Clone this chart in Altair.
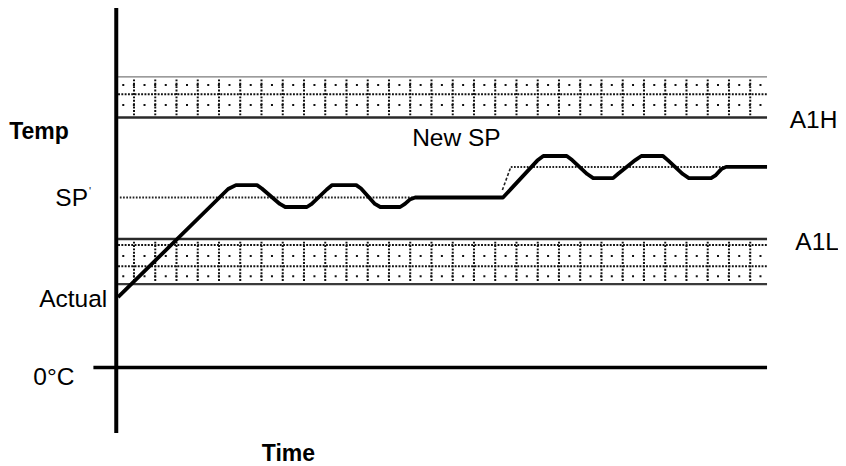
import altair as alt
import pandas as pd

# ---------------- data ----------------
# measured process temperature vs time
time_pts = [0.3, 18.6, 19.9, 23.4, 24.2, 27.2, 28.1, 31.7, 32.5, 35.0, 35.9, 39.9, 40.7,
            43.0, 43.9, 47.2, 48.0, 48.8, 49.7, 64.3, 70.0, 71.0, 74.9, 75.8, 78.3, 79.3,
            82.6, 83.4, 86.3, 87.3, 90.9, 91.7, 94.2, 95.2, 98.9, 99.7, 100.6, 101.4, 108.2]
temp_pts = [41.4, 105.0, 107.3, 107.3, 105.3, 96.2, 94.4, 94.4, 96.2, 104.7, 107.3, 107.3, 105.3,
            96.2, 94.4, 94.4, 96.2, 98.8, 100.0, 100.0, 121.7, 124.4, 124.4, 122.0, 113.8, 111.4,
            111.4, 113.8, 122.0, 124.4, 124.4, 122.0, 113.8, 111.4, 111.4, 113.2, 116.7, 118.0, 118.0]

SP = 100.0
NEW_SP = 118.0
SP_STEP_T = [64.2, 65.6]
SP_STEP_TEMP = [104.4, 118.0]
SP_END_T = 101.4

A1H = 147.0
A1L = 75.5
UPPER_TOP = 171.0
LOWER_BOTTOM = 49.0
T_START = 0.3
T_END = 108.2

AXIS_T_MIN = -3.8
AXIS_TEMP_MIN = -38.6
AXIS_TEMP_MAX = 211.5

left_labels = ["0°C", "A1L", "New SP"]
left_t = [-13.8, 112.9, 49.2]
left_temp = [-10.6, 69.3, 130.3]
right_labels = ["SP", "Actual", "A1H"]
right_t = [-4.7, -1.5, 119.9]
right_temp = [95.2, 35.5, 140.9]
bold_labels = ["Temp", "Time"]
bold_t = [-17.8, 24.2]
bold_temp = [134.4, -55.3]

# band texture rows (temperatures) and column grid
upper_dense_rows = [160.7]
upper_sparse_rows = [166.2, 154.4]
lower_dense_rows = [72.1, 59.5]
lower_sparse_rows = [65.6, 53.6]
COL_T0 = 2.95
COL_STEP = 3.533
N_COLS = 30
SPARSE_T0 = 1.0

# ---------------- chart ----------------
XS = alt.Scale(domain=[-18, 120], nice=False, zero=False)
YS = alt.Scale(domain=[-58, 211.5], nice=False, zero=False)


def X(f):
    return alt.X(f, type="quantitative", scale=XS, axis=None)


def Y(f):
    return alt.Y(f, type="quantitative", scale=YS, axis=None)


DOT = "#111111"
FONT = "Liberation Sans"
layers = []


def hrules(rows, t0, dash, width=2.0):
    df = pd.DataFrame({"y": rows, "x": [t0] * len(rows), "x2": [T_END] * len(rows)})
    return alt.Chart(df).mark_rule(color=DOT, strokeWidth=width, strokeDash=dash).encode(
        x=X("x"), x2="x2", y=Y("y"))


layers.append(hrules(upper_dense_rows, T_START, [1.9, 1.4]))
layers.append(hrules(upper_sparse_rows, SPARSE_T0, [2.0, 8.62]))
layers.append(hrules(lower_dense_rows, T_START, [1.9, 1.4]))
layers.append(hrules(lower_sparse_rows, SPARSE_T0, [2.0, 8.62]))

cols = [COL_T0 + COL_STEP * k for k in range(N_COLS)]
colsdf = pd.DataFrame({
    "x": cols * 2,
    "y": [UPPER_TOP - 1.5] * N_COLS + [A1L - 1.5] * N_COLS,
    "y2": [A1H + 1.2] * N_COLS + [LOWER_BOTTOM + 1.2] * N_COLS,
})
layers.append(alt.Chart(colsdf).mark_rule(color=DOT, strokeWidth=2.0, strokeDash=[1.9, 1.5]).encode(
    x=X("x"), y=Y("y"), y2="y2"))

# band borders
thin = pd.DataFrame({"y": [UPPER_TOP], "x": [T_START], "x2": [T_END]})
layers.append(alt.Chart(thin).mark_rule(color="#7a7a7a", strokeWidth=1.4).encode(x=X("x"), x2="x2", y=Y("y")))
alarm = pd.DataFrame({"y": [A1H, A1L], "x": [T_START] * 2, "x2": [T_END] * 2})
layers.append(alt.Chart(alarm).mark_rule(color="#2a2a2a", strokeWidth=2.5).encode(x=X("x"), x2="x2", y=Y("y")))
lowb = pd.DataFrame({"y": [LOWER_BOTTOM], "x": [T_START], "x2": [T_END]})
layers.append(alt.Chart(lowb).mark_rule(color="#3a3a3a", strokeWidth=2.1).encode(x=X("x"), x2="x2", y=Y("y")))

# setpoint (dotted)
spdf = pd.DataFrame({
    "t": [T_START + 0.3, 64.3, SP_STEP_T[1], SP_END_T],
    "temp": [SP, SP, NEW_SP, NEW_SP],
    "seg": ["a", "a", "b", "b"],
})
layers.append(alt.Chart(spdf).mark_line(color="#222222", strokeWidth=2.0, strokeDash=[1.7, 1.5]).encode(
    x=X("t"), y=Y("temp"), detail="seg"))
stepdf = pd.DataFrame({"t": SP_STEP_T, "temp": SP_STEP_TEMP})
layers.append(alt.Chart(stepdf).mark_line(color="#222222", strokeWidth=1.6, strokeDash=[3, 2]).encode(
    x=X("t"), y=Y("temp")))

# actual temperature curve
cdf = pd.DataFrame({"t": time_pts, "temp": temp_pts, "i": list(range(len(time_pts)))})
layers.append(alt.Chart(cdf).mark_line(color="black", strokeWidth=3.8, strokeJoin="round").encode(
    x=X("t"), y=Y("temp"), order="i:Q"))

# axes
vax = pd.DataFrame({"x": [0.0], "y": [AXIS_TEMP_MIN], "y2": [AXIS_TEMP_MAX]})
layers.append(alt.Chart(vax).mark_rule(color="black", strokeWidth=4).encode(x=X("x"), y=Y("y"), y2="y2"))
hax = pd.DataFrame({"y": [0.0], "x": [AXIS_T_MIN], "x2": [T_END]})
layers.append(alt.Chart(hax).mark_rule(color="black", strokeWidth=3.6).encode(x=X("x"), x2="x2", y=Y("y")))

# labels
ldf = pd.DataFrame({"label": left_labels, "t": left_t, "temp": left_temp})
layers.append(alt.Chart(ldf).mark_text(font=FONT, fontSize=24.5, align="left",
                                       baseline="alphabetic", color="black").encode(
    x=X("t"), y=Y("temp"), text="label"))
rdf = pd.DataFrame({"label": right_labels, "t": right_t, "temp": right_temp})
layers.append(alt.Chart(rdf).mark_text(font=FONT, fontSize=24.5, align="right",
                                       baseline="alphabetic", color="black").encode(
    x=X("t"), y=Y("temp"), text="label"))
bolddf = pd.DataFrame({"label": bold_labels, "t": bold_t, "temp": bold_temp})
layers.append(alt.Chart(bolddf).mark_text(font=FONT, fontSize=23, fontWeight="bold",
                                          align="left", baseline="alphabetic", color="black").encode(
    x=X("t"), y=Y("temp"), text="label"))
primedf = pd.DataFrame({"label": ["'"], "t": [-4.55], "temp": [107.0]})
layers.append(alt.Chart(primedf).mark_text(font=FONT, fontSize=11, align="left",
                                           baseline="top", color="#222222").encode(
    x=X("t"), y=Y("temp"), text="label"))

chart = alt.layer(*layers).properties(
    width=830, height=458, padding=0, autosize=alt.AutoSizeParams(type="none")
).configure_view(stroke=None)

chart.save("out.html", embed_options={"renderer": "svg", "actions": False})
